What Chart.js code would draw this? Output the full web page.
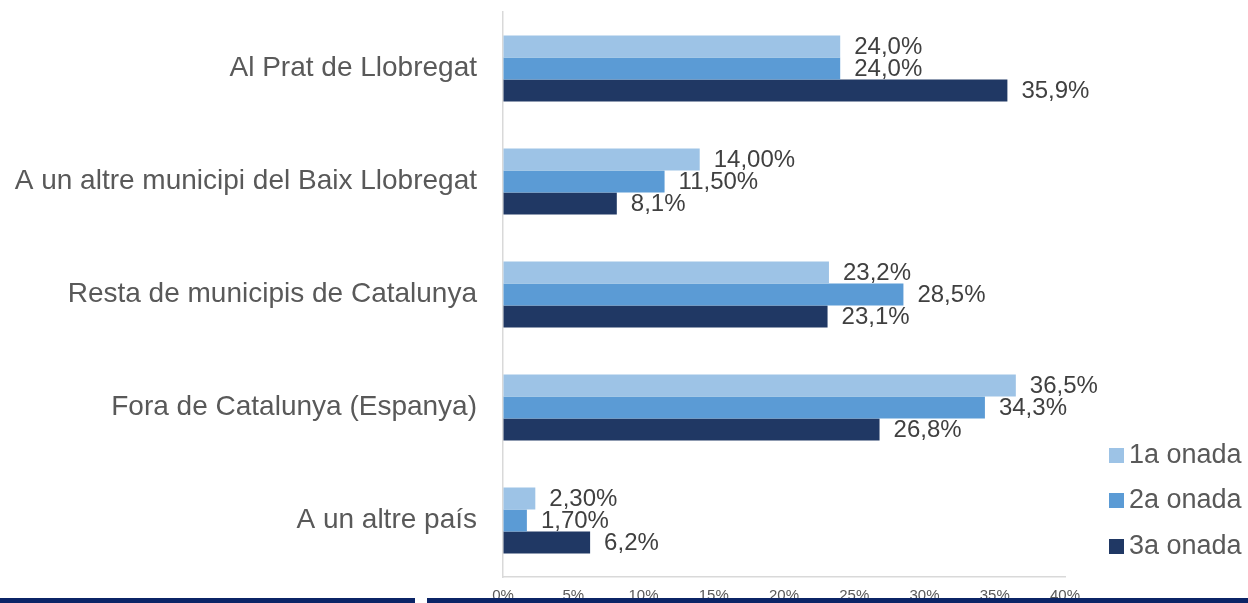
<!DOCTYPE html>
<html>
<head>
<meta charset="utf-8">
<script src="https://cdn.jsdelivr.net/npm/chart.js@4/dist/chart.umd.min.js"></script>
<style>
html,body{margin:0;padding:0;background:#fff;}
#wrap{width:1248px;height:603px;position:relative;}
</style>
</head>
<body>
<div id="wrap"><canvas id="c" width="1248" height="603"></canvas></div>
<script>
const categories = ["Al Prat de Llobregat", "A un altre municipi del Baix Llobregat", "Resta de municipis de Catalunya", "Fora de Catalunya (Espanya)", "A un altre país"];
const seriesNames = ["1a onada", "2a onada", "3a onada"];
const onada1 = [24.0, 14.0, 23.2, 36.5, 2.3];
const onada2 = [24.0, 11.5, 28.5, 34.3, 1.7];
const onada3 = [35.9, 8.1, 23.1, 26.8, 6.2];
const labels1 = ["24,0%", "14,00%", "23,2%", "36,5%", "2,30%"];
const labels2 = ["24,0%", "11,50%", "28,5%", "34,3%", "1,70%"];
const labels3 = ["35,9%", "8,1%", "23,1%", "26,8%", "6,2%"];
const xTicks = [0, 5, 10, 15, 20, 25, 30, 35, 40];
const colors = ["#9DC3E6", "#5B9BD5", "#203864"];

const FONT = "'Liberation Sans', Arial, sans-serif";

const valueLabels = {
  id: 'valueLabels',
  afterDatasetsDraw(chart) {
    const ctx = chart.ctx;
    const all = [labels1, labels2, labels3];
    ctx.save();
    ctx.font = "24px " + FONT;
    ctx.fillStyle = "#404040";
    ctx.textAlign = "left";
    ctx.textBaseline = "middle";
    chart.data.datasets.forEach((ds, di) => {
      const meta = chart.getDatasetMeta(di);
      meta.data.forEach((bar, i) => {
        ctx.fillText(all[di][i], bar.x + 14, bar.y + 1);
      });
    });
    ctx.restore();
  }
};

const customLegend = {
  id: 'customLegend',
  afterDraw(chart) {
    const ctx = chart.ctx;
    ctx.save();
    const ys = [455, 500, 546];
    ctx.font = "27px " + FONT;
    ctx.textBaseline = "middle";
    ctx.textAlign = "left";
    chart.data.datasets.forEach((ds, i) => {
      ctx.fillStyle = ds.backgroundColor;
      ctx.fillRect(1109, ys[i] - 7, 15, 15);
      ctx.fillStyle = "#595959";
      ctx.fillText(ds.label, 1129, ys[i] + 1);
    });
    // bottom navy bands
    ctx.fillStyle = "#0B2466";
    ctx.fillRect(0, 598, 415, 5);
    ctx.fillRect(427, 598, 821, 5);
    ctx.restore();
  }
};

new Chart(document.getElementById('c'), {
  type: 'bar',
  data: {
    labels: categories,
    datasets: [
      { label: seriesNames[0], data: onada1, backgroundColor: colors[0] },
      { label: seriesNames[1], data: onada2, backgroundColor: colors[1] },
      { label: seriesNames[2], data: onada3, backgroundColor: colors[2] }
    ]
  },
  options: {
    indexAxis: 'y',
    responsive: false,
    animation: false,
    devicePixelRatio: 1,
    layout: { padding: { top: 12, right: 183, left: 0, bottom: 0 } },
    datasets: { bar: { categoryPercentage: 0.585, barPercentage: 1.0, borderWidth: 0 } },
    plugins: { legend: { display: false }, tooltip: { enabled: false } },
    scales: {
      x: {
        min: 0, max: 40,
        afterBuildTicks(scale) { scale.ticks = xTicks.map(v => ({ value: v })); },
        afterFit(scale) { scale.height = 26; scale.paddingLeft = 0; scale.paddingRight = 0; },
        grid: { display: true, drawOnChartArea: false, drawTicks: false },
        border: { display: true, color: "#D9D9D9", width: 1.5 },
        ticks: {
          padding: 10,
          maxRotation: 0,
          color: "#595959",
          font: { family: FONT, size: 15 },
          callback: (v) => v + "%"
        }
      },
      y: {
        afterFit(scale) { scale.width = 503; scale.paddingTop = 0; scale.paddingBottom = 0; },
        grid: { display: true, drawOnChartArea: false, drawTicks: false },
        border: { display: true, color: "#D9D9D9", width: 1.5 },
        ticks: {
          padding: 26,
          color: "#595959",
          font: { family: FONT, size: 28 }
        }
      }
    }
  },
  plugins: [valueLabels, customLegend]
});
</script>
</body>
</html>
